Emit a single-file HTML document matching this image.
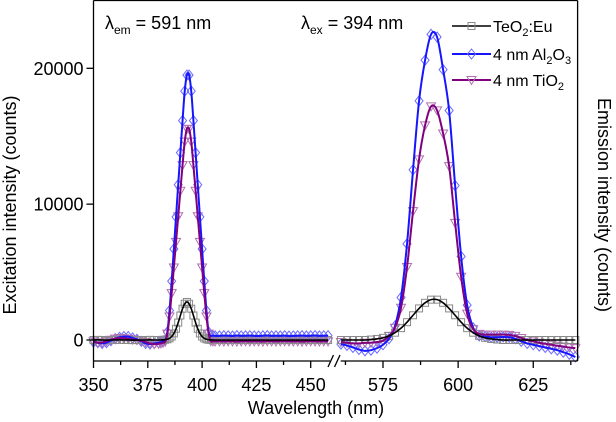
<!DOCTYPE html>
<html><head><meta charset="utf-8"><style>
html,body{margin:0;padding:0;background:#fff;}
svg{display:block;font-family:"Liberation Sans",Arial,sans-serif;}
</style></head><body>
<svg id="chart" width="616" height="422" viewBox="0 0 616 422" xmlns="http://www.w3.org/2000/svg">
<g id="plot"></g>
</svg>
<script>
// ---- data ----
const leftX = [350,352,354,356,358,360,362,364,366,368,370,372,374,376,378,
380,381,382,383,384,385,386,387,388,389,390,391,392,393,394,395,396,397,398,399,400,401,402,403,404,405,406,
408,410,412,414,416,418,420,422,424,426,428,430,432,434,436,438,440,442,444,446,448,450,452,454,456,458];
const leftBlack = [0,10,0,-10,0,0,10,0,0,-10,0,0,0,10,0,
0,5,10,21,53,123,256,482,826,1282,1803,2303,2666,2800,2666,2303,1803,1282,826,482,256,123,53,21,10,5,0,
0,0,0,0,0,0,0,0,0,0,0,0,0,0,0,0,0,0,0,0,0,0,0,0,0,0];
const leftAl2O3 = [-150,-200,-250,-200,-50,100,200,250,250,150,50,-100,-250,-300,-250,
-200,-150,-90,-20,590,2170,4330,6700,9060,11430,13790,16150,18320,19500,19500,18320,16150,13790,11430,9060,6700,4330,2170,590,300,320,300,
300,320,310,290,330,300,310,320,300,290,310,330,300,310,300,320,290,300,310,320,300,310,330,300,310,320];
const leftTiO2 = [-100,-200,-180,-80,20,100,150,130,80,40,0,-50,-150,-250,-300,
-280,-250,-200,-120,470,1730,3450,5340,7220,9110,10990,12870,14600,15540,15540,14600,12870,10990,9110,7220,5340,3450,1730,470,-80,-100,-100,
-100,-110,-90,-100,-120,-100,-90,-110,-100,-100,-120,-90,-100,-110,-100,-90,-100,-110,-100,-120,-100,-90,-100,-110,-100,-100];

const rightX = [561,563,565,567,569,571,573,575,577,579,581,583,585,587,589,591,593,595,597,599,601,603,605,607,609,611,613,615,617,619,621,623,625,627,629,631,633,635,637,639];
const rightBlack = [0,0,0,0,0,33,76,157,300,537,873,1312,1820,2325,2737,2970,2970,2737,2325,1820,1312,873,537,300,157,76,33,0,0,0,0,0,0,0,0,0,0,0,0,0];
const rightAl2O3 = [-300,-400,-550,-700,-800,-750,-600,-350,100,1040,3130,7080,12530,17600,20600,22500,22300,19900,16890,11370,6150,2570,900,300,250,200,200,220,200,100,-100,-250,-350,-450,-550,-650,-750,-900,-1050,-1250];
const rightTiO2 = [-150,-200,-250,-250,-200,-200,-150,-50,300,900,2370,5370,9490,13300,15800,17200,16900,15200,12800,8620,4660,1940,800,450,400,400,400,400,380,300,150,0,-100,-200,-280,-350,-420,-480,-550,-600];

const yTicks = [0,10000,20000];
const leftTicks = [350,375,400,425,450];
const rightTicks = [575,600,625];

// ---- axes ----
const NS="http://www.w3.org/2000/svg";
const X0=93.5, XL1=330, XR0=340.7, XR1=577.6, YT=0.5, YB=361;
function xl(v){return 93.5+(v-350)*2.172;}
function xr(v){return 383+(v-575)*3.005;}
function y(v){return 340-v*0.013585;}
const plot=document.getElementById('plot');
function mk(tag,attrs,parent){const e=document.createElementNS(NS,tag);for(const k in attrs)e.setAttribute(k,attrs[k]);(parent||plot).appendChild(e);return e;}

function smooth(pts){
  let d="M"+pts[0][0].toFixed(2)+","+pts[0][1].toFixed(2);
  for(let i=0;i<pts.length-1;i++){
    const p0=pts[i-1]||pts[i],p1=pts[i],p2=pts[i+1],p3=pts[i+2]||p2;
    const c1=[p1[0]+(p2[0]-p0[0])/6,p1[1]+(p2[1]-p0[1])/6];
    const c2=[p2[0]-(p3[0]-p1[0])/6,p2[1]-(p3[1]-p1[1])/6];
    d+="C"+c1[0].toFixed(2)+","+c1[1].toFixed(2)+" "+c2[0].toFixed(2)+","+c2[1].toFixed(2)+" "+p2[0].toFixed(2)+","+p2[1].toFixed(2);
  }
  return d;
}
function marker(type,cx,cy,g){
  let e;
  if(type==="sq") e=mk('rect',{x:cx-3.5,y:cy-3.5,width:7,height:7,fill:'none',stroke:'#8a8a8a','stroke-width':1},g);
  else if(type==="di") e=mk('polygon',{points:`${cx},${cy-5} ${cx+4},${cy} ${cx},${cy+5} ${cx-4},${cy}`,fill:'none',stroke:'#6a6aff','stroke-width':1},g);
  else e=mk('polygon',{points:`${cx-4.5},${cy-3.5} ${cx+4.5},${cy-3.5} ${cx},${cy+4.5}`,fill:'none',stroke:'#b070b0','stroke-width':1},g);
  return e;
}
const defs=[
 {name:'teo2-eu',vals:[leftBlack,rightBlack],line:'#000',m:'sq'},
 {name:'al2o3',vals:[leftAl2O3,rightAl2O3],line:'#1515ff',m:'di'},
 {name:'tio2',vals:[leftTiO2,rightTiO2],line:'#800080',m:'tr'}
];
const order=[1,2,0];
order.forEach(si=>{
  const s=defs[si];
  const g=mk('g',{});
  
  
  [[leftX,xl,0],[rightX,xr,1]].forEach(([xs,fx,pi])=>{
    xs.forEach((xv,i)=>{
      const m=marker(s.m,fx(xv),y(s.vals[pi][i]),g);
      
      
    });
  });
});
order.forEach(si=>{
  const s=defs[si];
  [[leftX,xl,0],[rightX,xr,1]].forEach(([xs,fx,pi])=>{
    const pts=xs.map((xv,i)=>[fx(xv),y(s.vals[pi][i])]);
    const p=mk('path',{d:smooth(pts),fill:'none',stroke:s.line,'stroke-width':si===0?1.6:2});
    
    
  });
});
// frame
const ax=mk('g',{stroke:'#000','stroke-width':1.3,fill:'none'});


mk('line',{x1:X0,y1:YT,x2:XR1,y2:YT},ax);
mk('line',{x1:X0,y1:YT,x2:X0,y2:YB},ax);
mk('line',{x1:XR1,y1:YT,x2:XR1,y2:YB},ax);
mk('line',{x1:X0,y1:YB,x2:XL1,y2:YB},ax);
mk('line',{x1:XR0,y1:YB,x2:XR1,y2:YB},ax);
mk('line',{x1:328,y1:367,x2:333.5,y2:355},ax);
mk('line',{x1:334.5,y1:367,x2:340,y2:355},ax);
yTicks.forEach(v=>{
  mk('line',{x1:X0-7,y1:y(v),x2:X0,y2:y(v)},ax);
  const t=mk('text',{x:X0-10,y:y(v)+6.5,'text-anchor':'end','font-size':18,fill:'#000'});
  t.textContent=v;
  
  
});
function xticks(ticks,fx,minorFrom,minorTo,lo,hi){
  ticks.forEach(v=>{
    mk('line',{x1:fx(v),y1:YB,x2:fx(v),y2:YB+7},ax);
    const t=mk('text',{x:fx(v),y:391,'text-anchor':'middle','font-size':18,fill:'#000'});
    t.textContent=v;
    
    
  });
  for(let v=minorFrom;v<=minorTo;v+=25){ if(v>=lo&&v<=hi) mk('line',{x1:fx(v),y1:YB,x2:fx(v),y2:YB+4},ax); }
}
xticks(leftTicks,xl,362.5,462.5,350,459);
xticks(rightTicks,xr,562.5,637.5,561,640);
function txt(s,attrs,name){const t=mk('text',Object.assign({fill:'#000'},attrs));t.innerHTML=s;return t;}
txt('Wavelength (nm)',{x:316,y:414,'text-anchor':'middle','font-size':18},'x-axis-title');
txt('Excitation intensity (counts)',{x:0,y:0,'text-anchor':'middle','font-size':18,transform:'translate(16,205) rotate(-90)'},'y-axis-title-left');
txt('Emission intensity (counts)',{x:0,y:0,'text-anchor':'middle','font-size':18,transform:'translate(598,205) rotate(90)'},'y-axis-title-right');
txt('λ<tspan font-size="12" dy="5">em</tspan><tspan dy="-5"> = 591 nm</tspan>',{x:105,y:29,'font-size':18},'excitation-annotation');
txt('λ<tspan font-size="12" dy="5">ex</tspan><tspan dy="-5"> = 394 nm</tspan>',{x:301,y:29,'font-size':18},'emission-annotation');
const leg=[
 ['TeO<tspan font-size="11" dy="4">2</tspan><tspan dy="-4">:Eu</tspan>','#000','sq'],
 ['4 nm Al<tspan font-size="11" dy="4">2</tspan><tspan dy="-4">O</tspan><tspan font-size="11" dy="4">3</tspan>','#1515ff','di'],
 ['4 nm TiO<tspan font-size="11" dy="4">2</tspan>','#800080','tr']];
const ly=[26,54,80];
leg.forEach((l,i)=>{
  const g=mk('g',{});
  
  
  mk('line',{x1:452,y1:ly[i],x2:491,y2:ly[i],stroke:l[1],'stroke-width':i===0?1.5:2},g);
  marker(l[2],471.5,ly[i],g);
  const t=mk('text',{x:493,y:ly[i]+6,'font-size':16,fill:'#000'},g);
  t.innerHTML=l[0];
});
</script>
</body></html>
